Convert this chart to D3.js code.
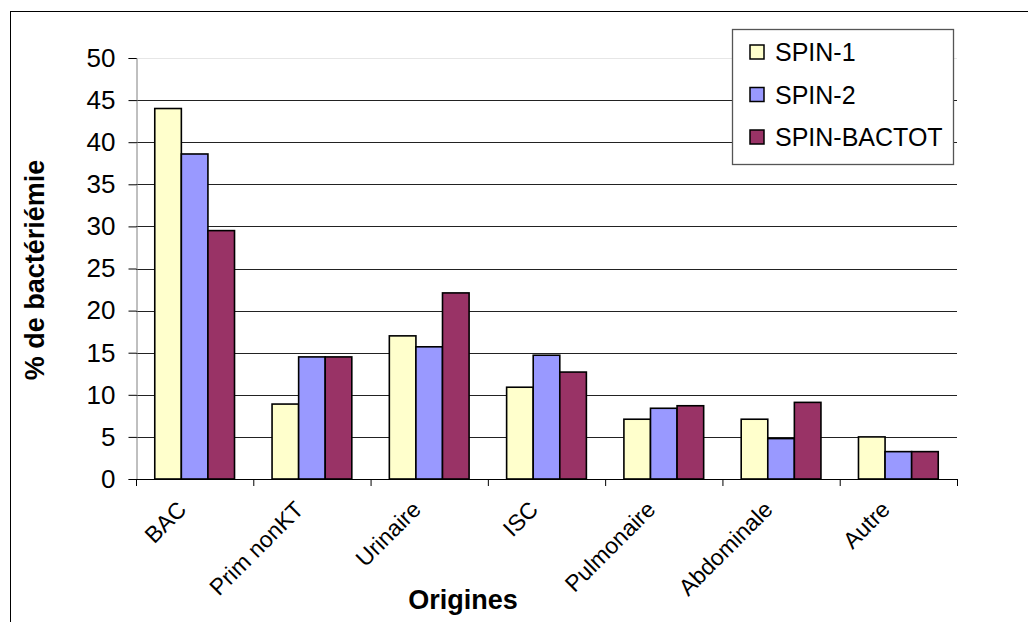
<!DOCTYPE html>
<html>
<head>
<meta charset="utf-8">
<script src="https://cdn.jsdelivr.net/npm/d3@7"></script>
<style>
  body { margin: 0; background: #fff; }
  svg { display: block; font-family: "Liberation Sans", Arial, sans-serif; }
</style>
</head>
<body>
<svg id="chart" width="1028" height="622"></svg>
<script>
const categories = ["BAC", "Prim nonKT", "Urinaire", "ISC", "Pulmonaire", "Abdominale", "Autre"];
const seriesNames = ["SPIN-1", "SPIN-2", "SPIN-BACTOT"];
const spin1 = [44.0, 8.9, 17.0, 10.9, 7.1, 7.1, 5.0];
const spin2 = [38.6, 14.5, 15.7, 14.7, 8.4, 4.8, 3.25];
const spinBactot = [29.5, 14.5, 22.1, 12.7, 8.7, 9.1, 3.25];
const yTicks = [0, 5, 10, 15, 20, 25, 30, 35, 40, 45, 50];
const colors = ["#FFFFCC", "#9999FF", "#993366"];

const seriesValues = [spin1, spin2, spinBactot];
const svg = d3.select("#chart");

// outer border
svg.append("rect").attr("x", 10.5).attr("y", 11.5).attr("width", 1100).attr("height", 700)
  .attr("fill", "none").attr("stroke", "#000").attr("stroke-width", 1);

const pLeft = 136, pRight = 957, pTop = 58, pBottom = 479;
const x0 = d3.scaleBand().domain(categories).range([pLeft, pRight]).paddingInner(0.32).paddingOuter(0.16);
const x1 = d3.scaleBand().domain(seriesNames).range([0, x0.bandwidth()]);
const y = d3.scaleLinear().domain([0, 50]).range([pBottom, pTop]);

// gridlines
svg.append("g").selectAll("line").data(yTicks.filter(t => t > 0)).join("line")
  .attr("x1", pLeft).attr("x2", pRight)
  .attr("y1", d => Math.round(y(d)) + 0.5).attr("y2", d => Math.round(y(d)) + 0.5)
  .attr("stroke", d => d === 50 ? "#e6e6e6" : "#222").attr("stroke-width", 1);

// y axis
const yAxis = d3.axisLeft(y).tickValues(yTicks).tickSize(8).tickPadding(13);
const gy = svg.append("g").attr("transform", `translate(${pLeft + 0.5},0)`).call(yAxis);
gy.select(".domain").attr("stroke", "#808080");
gy.selectAll(".tick line").attr("stroke", "#000");
gy.selectAll(".tick text").attr("font-size", 26).attr("fill", "#000")
  .attr("font-family", "Liberation Sans, Arial, sans-serif");

// bars
const groups = svg.append("g").selectAll("g").data(categories).join("g")
  .attr("transform", d => `translate(${x0(d)},0)`);
groups.selectAll("rect").data((d, i) => seriesNames.map((s, j) => ({ s, j, v: seriesValues[j][i] })))
  .join("rect")
  .attr("x", d => x1(d.s))
  .attr("y", d => y(d.v))
  .attr("width", x1.bandwidth())
  .attr("height", d => y(0) - y(d.v))
  .attr("fill", d => colors[d.j])
  .attr("stroke", "#000").attr("stroke-width", 1.6);

// x axis
const step = (pRight - pLeft) / categories.length;
const xg = svg.append("g");
xg.append("line").attr("x1", pLeft).attr("x2", pRight).attr("y1", pBottom + 0.5).attr("y2", pBottom + 0.5)
  .attr("stroke", "#000").attr("stroke-width", 1.2);
xg.selectAll("line.tk").data(d3.range(categories.length + 1)).join("line").attr("class", "tk")
  .attr("x1", i => pLeft + 0.5 + i * step).attr("x2", i => pLeft + 0.5 + i * step)
  .attr("y1", pBottom).attr("y2", pBottom + 7).attr("stroke", "#000");
xg.selectAll("text").data(categories).join("text")
  .attr("transform", d => `translate(${x0(d) + x0.bandwidth() / 2 - 7},${pBottom + 32}) rotate(-45)`)
  .attr("text-anchor", "end").attr("font-size", 23).attr("fill", "#000")
  .text(d => d);

// axis titles
svg.append("text").attr("transform", "translate(44,270) rotate(-90)")
  .attr("text-anchor", "middle").attr("font-size", 27).attr("font-weight", "bold").text("% de bactériémie");
svg.append("text").attr("x", 463).attr("y", 609)
  .attr("text-anchor", "middle").attr("font-size", 27).attr("font-weight", "bold").text("Origines");

// legend
const lg = svg.append("g");
lg.append("rect").attr("x", 732.5).attr("y", 29.5).attr("width", 221).attr("height", 135)
  .attr("fill", "#fff").attr("stroke", "#555").attr("stroke-width", 1.3);
const items = lg.selectAll("g").data(seriesNames).join("g")
  .attr("transform", (d, i) => `translate(750,${52 + i * 42.5})`);
items.append("rect").attr("x", 0).attr("y", -7).attr("width", 14).attr("height", 14)
  .attr("fill", (d, i) => colors[i]).attr("stroke", "#000").attr("stroke-width", 1.5);
items.append("text").attr("x", 25).attr("y", 9).attr("font-size", 25).attr("fill", "#000").text(d => d);
</script>
</body>
</html>
